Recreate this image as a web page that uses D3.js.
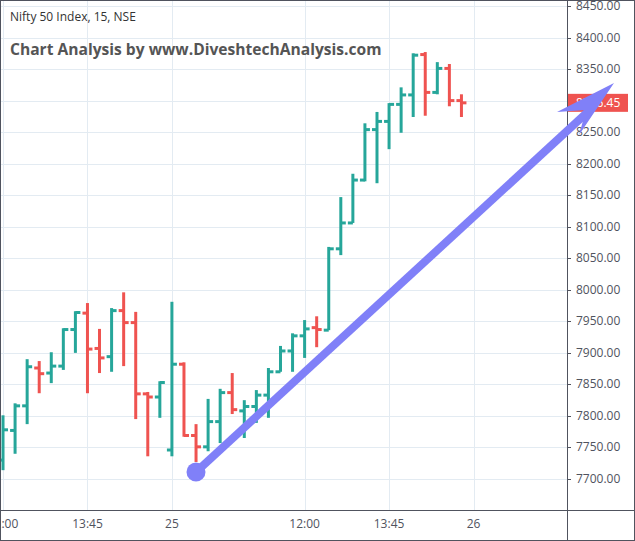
<!DOCTYPE html>
<html><head><meta charset="utf-8">
<script src="https://cdnjs.cloudflare.com/ajax/libs/d3/7.8.5/d3.min.js"></script>
<style>body{margin:0;background:#fff}svg{display:block;font-family:"Open Sans",Roboto,sans-serif}</style>
</head><body><div id="chart"></div>
<script>
var opens  = [7730,7777,7816,7876,7868,7879,7937,7963,7907,7894,7967,7948,7835,7830,7746,7882,7769,7751,7791,7837,7808,7815,7833,7870,7903,7927,7940,7936,8065,8106,8174,8254,8267,8294,8309,8373,8313,8351,8300];
var highs  = [7801,7820,7890,7887,7901,7939,7966,7979,7938,7971,7996,7965,7838,7855,7981,7885,7787,7827,7843,7868,7825,7841,7876,7911,7931,7952,7958,8068,8147,8184,8264,8282,8296,8321,8375,8377,8361,8358,8310];
var lows   = [7714,7740,7787,7836,7852,7873,7900,7836,7868,7870,7879,7795,7736,7797,7736,7767,7727,7744,7757,7803,7765,7789,7797,7870,7870,7892,7909,7936,8055,8106,8172,8169,8223,8249,8274,8276,8310,8291,8274];
var closes = [7778,7816,7878,7867,7879,7937,7964,7906,7892,7967,7948,7835,7830,7853,7882,7769,7751,7791,7837,7810,7815,7833,7870,7903,7927,7938,7937,8065,8106,8174,8254,8267,8294,8309,8372,8313,8351,8300,8296.45];
var xTickIdx = [0,7,14,25,32,39];
var xTickLabels = ["12:00","13:45","25","12:00","13:45","26"];
var yTicks = d3.range(7700,8451,50);
var lastPrice = "8296.45";

var W=635,H=541,pw=567,ph=510;
var bars = opens.map(function(o,i){return {i:i,o:o,h:highs[i],l:lows[i],c:closes[i]};});
var x = d3.scaleLinear().domain([-0.25,46.75]).range([0,pw]);
var y = d3.scaleLinear().domain([7700,8450]).range([479,6]);
var green="#26a69a", red="#ef5350", grid="#e3ebf2", axc="#50535e";

var svg = d3.select('#chart').append('svg').attr('width',W).attr('height',H);
svg.append('clipPath').attr('id','pc').append('rect').attr('width',pw).attr('height',ph);
var plot = svg.append('g').attr('clip-path','url(#pc)');

plot.selectAll('.hg').data(yTicks).enter().append('line')
  .attr('x1',0).attr('x2',pw).attr('y1',function(d){return Math.round(y(d))+0.5;}).attr('y2',function(d){return Math.round(y(d))+0.5;})
  .attr('stroke',grid);
plot.selectAll('.vg').data(xTickIdx).enter().append('line')
  .attr('y1',0).attr('y2',ph).attr('x1',function(d){return Math.round(x(d))+0.5;}).attr('x2',function(d){return Math.round(x(d))+0.5;})
  .attr('stroke',grid);

var g = plot.selectAll('.bar').data(bars).enter().append('g')
  .attr('stroke',function(d){return d.c>=d.o?green:red;}).attr('stroke-width',3);
g.append('line').attr('x1',function(d){return x(d.i);}).attr('x2',function(d){return x(d.i);})
  .attr('y1',function(d){return y(d.h);}).attr('y2',function(d){return y(d.l);});
g.append('line').attr('x1',function(d){return x(d.i)-5;}).attr('x2',function(d){return x(d.i);})
  .attr('y1',function(d){return y(d.o);}).attr('y2',function(d){return y(d.o);});
g.append('line').attr('x1',function(d){return x(d.i);}).attr('x2',function(d){return x(d.i)+5;})
  .attr('y1',function(d){return y(d.c);}).attr('y2',function(d){return y(d.c);});

svg.selectAll('.xl').data(xTickIdx).enter().append('text')
  .attr('x',function(d){return x(d);}).attr('y',528).attr('text-anchor','middle')
  .attr('font-size',12).attr('fill','#50535e').text(function(d,i){return xTickLabels[i];});
svg.selectAll('.yt').data(yTicks).enter().append('line')
  .attr('x1',pw).attr('x2',pw+4).attr('y1',function(d){return Math.round(y(d))+0.5;}).attr('y2',function(d){return Math.round(y(d))+0.5;})
  .attr('stroke',axc);
svg.selectAll('.yl').data(yTicks).enter().append('text')
  .attr('x',576).attr('y',function(d){return y(d)+4;})
  .attr('font-size',12).attr('fill','#50535e').text(function(d){return d.toFixed(2);});

var lp = y(+lastPrice);
svg.append('rect').attr('x',pw).attr('y',lp-9).attr('width',61).attr('height',18).attr('fill',red);
svg.append('text').attr('x',576).attr('y',lp+4).attr('font-size',12).attr('fill','#fff').text(lastPrice);

svg.append('line').attr('x1',pw+0.5).attr('x2',pw+0.5).attr('y1',0).attr('y2',H).attr('stroke',axc);
svg.append('line').attr('x1',0).attr('x2',W).attr('y1',ph+0.5).attr('y2',ph+0.5).attr('stroke',axc);
svg.append('rect').attr('x',0.5).attr('y',0.5).attr('width',W-1).attr('height',H-1).attr('fill','none').attr('stroke',axc);

svg.append('text').attr('x',10).attr('y',21).attr('font-size',12).attr('fill','#333').text('Nifty 50 Index, 15, NSE');
svg.append('text').attr('x',10).attr('y',55).attr('font-size',15.6).attr('font-weight','bold').attr('fill','#555').text('Chart Analysis by www.DiveshtechAnalysis.com');

var ac="#8080f8";
svg.append('line').attr('x1',196).attr('y1',472).attr('x2',592).attr('y2',108).attr('stroke',ac).attr('stroke-width',8);
svg.append('circle').attr('cx',196).attr('cy',472).attr('r',9.5).attr('fill',ac);
svg.append('path').attr('d','M614,83 L557,112 L586,110 L579,135 Z').attr('fill',ac);
</script></body></html>
